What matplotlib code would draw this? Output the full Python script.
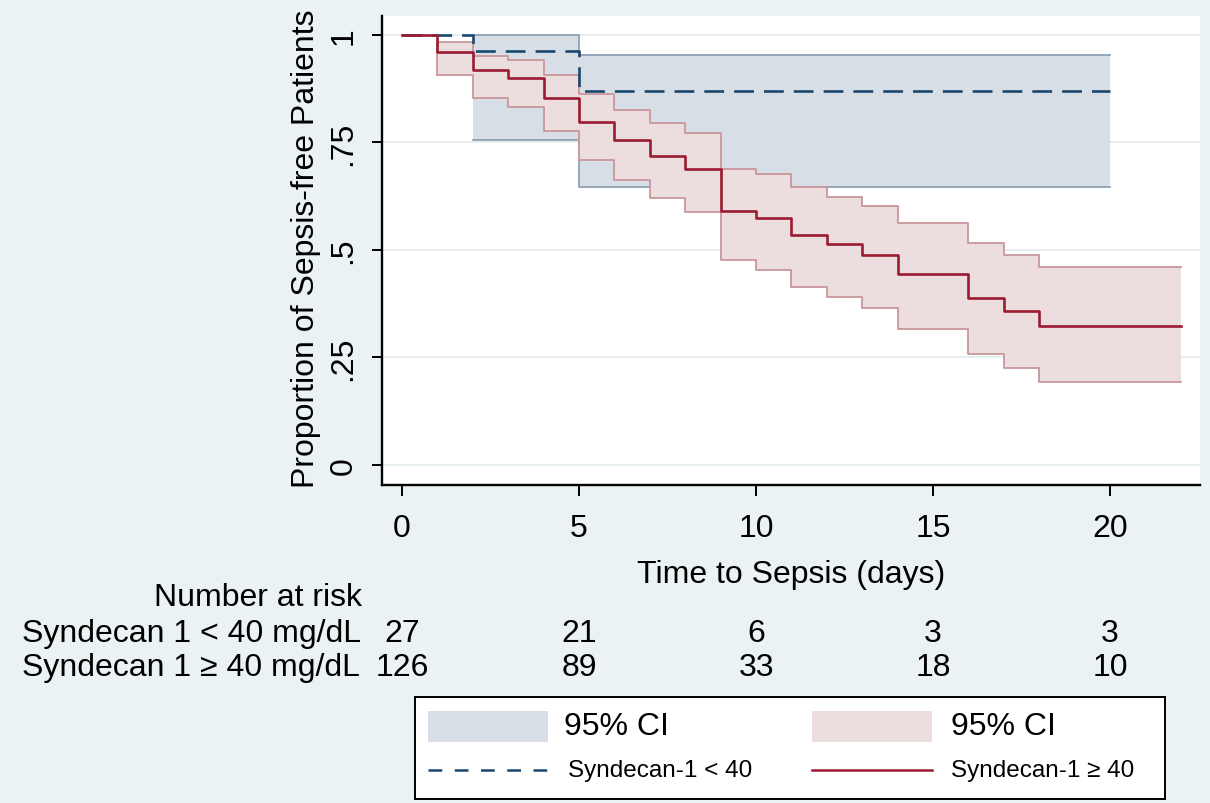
import matplotlib
matplotlib.use("Agg")
import matplotlib.pyplot as plt
from matplotlib.patches import Rectangle
from matplotlib.lines import Line2D
from matplotlib.transforms import blended_transform_factory

plt.rcParams['font.family'] = ['Liberation Sans', 'DejaVu Sans']

# ---- data ----
low_times = [0, 2, 5, 20]
low_surv = [1.0, 0.963, 0.870, 0.870]
low_ci_times = [2, 5, 20]
low_ci_upper = [1.0, 0.953, 0.953]
low_ci_lower = [0.755, 0.647, 0.647]

high_times = [0, 1, 2, 3, 4, 5, 6, 7, 8, 9, 10, 11, 12, 13, 14, 16, 17, 18, 22]
high_surv = [1.0, 0.960, 0.919, 0.901, 0.853, 0.797, 0.755, 0.719, 0.688, 0.590,
             0.574, 0.535, 0.513, 0.489, 0.444, 0.388, 0.357, 0.324, 0.324]
high_ci_times = [1, 2, 3, 4, 5, 6, 7, 8, 9, 10, 11, 12, 13, 14, 16, 17, 18, 22]
high_ci_upper = [0.983, 0.951, 0.942, 0.907, 0.863, 0.825, 0.795, 0.772, 0.688,
                 0.676, 0.646, 0.623, 0.603, 0.563, 0.516, 0.489, 0.460, 0.460]
high_ci_lower = [0.907, 0.853, 0.832, 0.777, 0.709, 0.663, 0.620, 0.588, 0.476,
                 0.454, 0.415, 0.390, 0.364, 0.316, 0.257, 0.226, 0.194, 0.194]

risk_times = [0, 5, 10, 15, 20]
risk_low = [27, 21, 6, 3, 3]
risk_high = [126, 89, 33, 18, 10]
row_labels = ["Syndecan 1 < 40 mg/dL", "Syndecan 1 \u2265 40 mg/dL"]

yticks = [0, 0.25, 0.5, 0.75, 1]
ytick_labels = ["0", ".25", ".5", ".75", "1"]
xticks = [0, 5, 10, 15, 20]

# ---- style ----
BG = '#eaf2f3'
NAVY = '#1a476f'
RED = '#9b1b30'
BLUE_FILL = '#d8dee6'
BLUE_EDGE = '#8ea2b5'
RED_FILL = '#ecddde'
RED_EDGE = '#c8969b'
FS = 23

W, H = 1210, 804
fig = plt.figure(figsize=(W / 100, H / 100), dpi=100, facecolor=BG)

def fx(px):
    return px / W

def fy(py):
    return (H - py) / H

ax = fig.add_axes([fx(382), fy(486), fx(1200) - fx(382), fy(17) - fy(486)])
ax.set_facecolor('white')
ax.set_xlim(-0.565, 22.54)
ax.set_ylim(-0.0465, 1.044)

for s in ['top', 'right']:
    ax.spines[s].set_visible(False)
for s in ['left', 'bottom']:
    ax.spines[s].set_linewidth(1.7)
    ax.spines[s].set_color('black')

ax.set_yticks(yticks)
ax.set_yticklabels(ytick_labels)
ax.set_xticks(xticks)
ax.tick_params(axis='y', length=7, width=1.4, labelsize=FS, labelrotation=90, pad=10)
ax.tick_params(axis='x', length=8, width=1.4, labelsize=FS, pad=12)
for lab in ax.get_yticklabels():
    lab.set_va('center')

ax.yaxis.grid(True, color='#e6eef0', lw=1.4, zorder=0)
ax.set_axisbelow(True)

# confidence bands
ax.fill_between(low_ci_times, low_ci_lower, low_ci_upper, step='post',
                color=BLUE_FILL, lw=0, zorder=1)
ax.step(low_ci_times, low_ci_upper, where='post', color=BLUE_EDGE, lw=1.3, zorder=2)
ax.step(low_ci_times, low_ci_lower, where='post', color=BLUE_EDGE, lw=1.3, zorder=2)
ax.fill_between(high_ci_times, high_ci_lower, high_ci_upper, step='post',
                color=RED_FILL, lw=0, zorder=3)
ax.step(high_ci_times, high_ci_upper, where='post', color=RED_EDGE, lw=1.3, zorder=4)
ax.step(high_ci_times, high_ci_lower, where='post', color=RED_EDGE, lw=1.3, zorder=4)
ax.vlines(high_ci_times[0], high_ci_lower[0], high_ci_upper[0], color=RED_EDGE, lw=1.3, zorder=4)

# survival curves
ax.step(low_times, low_surv, where='post', color=NAVY, lw=1.9,
        dashes=(7.5, 3.8), zorder=5)
ax.step(high_times, high_surv, where='post', color=RED, lw=1.9, zorder=6)

ax.set_xlabel("Time to Sepsis (days)", fontsize=FS, labelpad=12)
ax.set_ylabel("Proportion of Sepsis-free Patients", fontsize=FS)
ax.yaxis.set_label_coords(-0.075, 0.505)

# number at risk table
tr = blended_transform_factory(ax.transData, fig.transFigure)
fig.text(fx(258), fy(598), "Number at risk", fontsize=FS, ha='center', va='center')
for yy, lab, vals in [(634, row_labels[0], risk_low), (668, row_labels[1], risk_high)]:
    fig.text(fx(22), fy(yy), lab, fontsize=FS, ha='left', va='center')
    for t, v in zip(risk_times, vals):
        fig.text(t, fy(yy), str(v), fontsize=FS, ha='center', va='center', transform=tr)

# legend box
lx0, lx1, ly0, ly1 = 415, 1165, 698, 800
lax = fig.add_axes([fx(lx0), fy(ly1), fx(lx1) - fx(lx0), fy(ly0) - fy(ly1)])
lax.set_xlim(0, lx1 - lx0)
lax.set_ylim(ly1 - ly0, 0)
lax.set_xticks([])
lax.set_yticks([])
lax.set_facecolor('white')
for s in lax.spines.values():
    s.set_linewidth(1.4)
    s.set_color('black')

lax.add_patch(Rectangle((13, 14), 120, 31, color=BLUE_FILL, lw=0))
lax.text(149, 29, "95% CI", fontsize=FS, ha='left', va='center')
lax.add_line(Line2D([13, 133], [73, 73], color=NAVY, lw=1.8, dashes=(5.5, 5)))
lax.text(153, 73, "Syndecan-1 < 40", fontsize=17.5, ha='left', va='center')

lax.add_patch(Rectangle((397, 14), 120, 31, color=RED_FILL, lw=0))
lax.text(536, 29, "95% CI", fontsize=FS, ha='left', va='center')
lax.add_line(Line2D([397, 517], [73, 73], color=RED, lw=1.8))
lax.text(536, 73, "Syndecan-1 \u2265 40", fontsize=17.5, ha='left', va='center')

fig.savefig("out.png", dpi=100, facecolor=BG)
